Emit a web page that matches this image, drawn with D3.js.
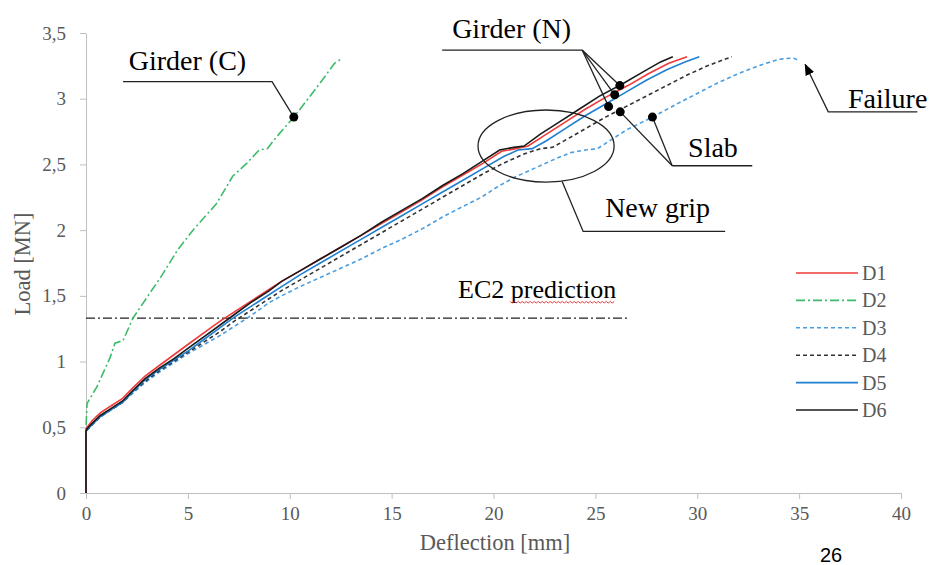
<!DOCTYPE html>
<html>
<head>
<meta charset="utf-8">
<script src="https://cdn.jsdelivr.net/npm/d3@7"></script>
<style>
  body { margin: 0; background: #fff; }
  .axis path, .axis line { stroke: #bfbfbf; }
  .axis text { font-family: "Liberation Serif", serif; font-size: 19px; fill: #595959; }
  .ann { font-family: "Liberation Serif", serif; font-size: 28px; fill: #000; }
</style>
</head>
<body>
<div id="chart"></div>
<script>
// series: [deflection mm, load MN]
const D1 = [[0,0],[0,0.48],[0.05,0.5],[0.3,0.55],[0.7,0.61],[1.2,0.66],[1.8,0.72],[2.3,0.8],[2.9,0.89],[3.6,0.97],[4.3,1.05],[5.0,1.13],[5.8,1.22],[6.6,1.31],[7.3,1.38],[8.1,1.46],[9.0,1.55],[9.6,1.61],[10.5,1.69],[11.5,1.78],[12.5,1.87],[13.5,1.96],[14.5,2.05],[15.5,2.14],[16.5,2.23],[17.5,2.33],[18.5,2.42],[19.5,2.51],[20.4,2.6],[21.1,2.62],[21.7,2.64],[22.6,2.73],[23.5,2.82],[24.5,2.92],[25.5,3.01],[26.6,3.1],[27.6,3.19],[28.6,3.27],[29.5,3.32]];
const D2 = [[0,0],[0,0.5],[0.05,0.68],[0.54,0.81],[1.18,1.03],[1.42,1.14],[1.82,1.16],[2.3,1.33],[3.0,1.49],[3.7,1.65],[4.5,1.85],[5.25,2.0],[6.4,2.2],[7.2,2.41],[7.9,2.51],[8.5,2.61],[8.9,2.62],[9.3,2.7],[10.2,2.86],[11.3,3.08],[12.2,3.27],[12.5,3.3]];
const D3 = [[0,0],[0,0.47],[0.05,0.48],[0.3,0.52],[0.7,0.58],[1.2,0.63],[1.8,0.69],[2.3,0.76],[2.9,0.84],[3.6,0.92],[4.3,0.99],[5.0,1.06],[5.8,1.13],[6.6,1.2],[7.3,1.27],[8.1,1.35],[9.0,1.45],[9.6,1.5],[10.5,1.57],[11.5,1.64],[12.5,1.71],[13.5,1.78],[14.5,1.86],[15.5,1.93],[16.5,2.01],[17.5,2.1],[18.5,2.18],[19.4,2.25],[20.2,2.33],[21.0,2.4],[22.0,2.47],[23.0,2.54],[23.8,2.59],[24.5,2.61],[25.1,2.62],[25.6,2.67],[26.5,2.76],[27.8,2.86],[29,2.96],[30,3.04],[31,3.12],[32,3.19],[33,3.25],[34,3.3],[34.7,3.31],[35.0,3.29]];
const D4 = [[0,0],[0,0.47],[0.05,0.48],[0.3,0.52],[0.7,0.58],[1.2,0.63],[1.8,0.69],[2.3,0.77],[2.9,0.85],[3.6,0.93],[4.3,1.0],[5.0,1.07],[5.8,1.15],[6.6,1.23],[7.3,1.31],[8.1,1.39],[9.0,1.48],[9.6,1.54],[10.5,1.62],[11.5,1.71],[12.5,1.8],[13.5,1.89],[14.5,1.98],[15.5,2.07],[16.5,2.16],[17.5,2.25],[18.5,2.34],[19.5,2.43],[20.5,2.51],[21.5,2.58],[22.3,2.62],[22.9,2.63],[23.7,2.7],[24.6,2.78],[25.5,2.86],[26.5,2.94],[27.5,3.02],[28.5,3.1],[29.5,3.18],[30.5,3.25],[31.7,3.32]];
const D5 = [[0,0],[0,0.47],[0.05,0.48],[0.3,0.52],[0.7,0.58],[1.2,0.63],[1.8,0.69],[2.3,0.77],[2.9,0.86],[3.6,0.94],[4.3,1.01],[5.0,1.08],[5.8,1.17],[6.6,1.26],[7.3,1.34],[8.1,1.42],[9.0,1.51],[9.6,1.57],[10.5,1.66],[11.5,1.75],[12.5,1.84],[13.5,1.93],[14.5,2.02],[15.5,2.11],[16.5,2.2],[17.5,2.29],[18.5,2.38],[19.5,2.47],[20.5,2.56],[21.2,2.61],[21.9,2.62],[22.6,2.68],[23.5,2.77],[24.5,2.87],[25.5,2.96],[26.5,3.05],[27.5,3.14],[28.5,3.22],[29.4,3.28],[30.1,3.32]];
const D6 = [[0,0],[0,0.47],[0.05,0.49],[0.3,0.53],[0.7,0.59],[1.2,0.64],[1.8,0.7],[2.3,0.78],[2.9,0.87],[3.6,0.95],[4.3,1.02],[5.0,1.1],[5.8,1.19],[6.6,1.28],[7.3,1.36],[8.1,1.45],[9.0,1.54],[9.6,1.61],[10.5,1.69],[11.5,1.78],[12.5,1.87],[13.5,1.96],[14.5,2.06],[15.5,2.15],[16.5,2.24],[17.5,2.34],[18.5,2.43],[19.4,2.52],[20.3,2.61],[21.0,2.63],[21.5,2.64],[22.3,2.73],[23.2,2.82],[24.2,2.92],[25.2,3.02],[26.3,3.11],[27.3,3.2],[28.2,3.28],[28.8,3.32]];

const seriesNames = ["D1","D2","D3","D4","D5","D6"];
const seriesData = [D1, D2, D3, D4, D5, D6];
const xTicks = [0,5,10,15,20,25,30,35,40];
const yTicks = [0,0.5,1,1.5,2,2.5,3,3.5];

// EC2 prediction level [MN] and extent [mm]
const ec2Load = 1.33;
const ec2Extent = [0, 26.7];

// annotation anchor points in data units
const girderCDot = [10.2, 2.86];
const girderCLeader = [[10.2, 2.86], [9.13, 3.13], [1.82, 3.13]];
const girderNDots = [[26.2, 3.1], [25.95, 3.03], [25.65, 2.94]];
const girderNLeader = [[17.48, 3.37], [24.35, 3.37]];
const slabDots = [[26.22, 2.9], [27.8, 2.86]];
const slabLeader = [[28.77, 2.49], [32.7, 2.49]];
const gripEllipse = {cx: 22.58, cy: 2.64, rx: 3.34, ry: 0.274};
const gripLeader = [[23.37, 2.37], [24.4, 1.99], [31.37, 1.99]];
const failureLeader = [[40.8, 2.9], [36.43, 2.9], [35.3, 3.26]];

// styles
const colors = {D1: "#f03a3a", D2: "#3dbb6a", D3: "#4a9ee0", D4: "#333333", D5: "#1f7fd0", D6: "#1a1a1a"};
const dashes = {D1: null, D2: "9,3,2,3", D3: "4,3", D4: "4,3", D5: null, D6: null};

const W = 931, H = 565;
const svg = d3.select("#chart").append("svg")
    .attr("width", W)
    .attr("height", H)
    .style("font-family", "Liberation Serif, serif");

const x = d3.scaleLinear().domain([0, 40]).range([86, 901]);
const y = d3.scaleLinear().domain([0, 3.5]).range([493, 33]);

// axes
svg.append("g")
    .attr("class", "axis")
    .attr("transform", "translate(0,493)")
    .call(d3.axisBottom(x).tickValues(xTicks).tickSize(6).tickSizeOuter(0).tickPadding(8).tickFormat(d3.format("d")));

svg.append("g")
    .attr("class", "axis")
    .attr("transform", "translate(86,0)")
    .call(d3.axisLeft(y).tickValues(yTicks).tickSize(6).tickSizeOuter(0).tickPadding(14)
        .tickFormat(d => String(d).replace(".", ",")));

svg.selectAll(".axis .domain").attr("stroke", "#bfbfbf");

// axis titles
svg.append("text")
    .attr("x", 495)
    .attr("y", 550)
    .attr("text-anchor", "middle")
    .attr("font-size", 22.5)
    .attr("fill", "#595959")
    .text("Deflection [mm]");

svg.append("text")
    .attr("transform", "translate(30,264) rotate(-90)")
    .attr("text-anchor", "middle")
    .attr("font-size", 22.5)
    .attr("fill", "#595959")
    .text("Load [MN]");

// EC2 prediction line
svg.append("line")
    .attr("x1", x(ec2Extent[0]))
    .attr("x2", x(ec2Extent[1]))
    .attr("y1", y(ec2Load))
    .attr("y2", y(ec2Load))
    .attr("stroke", "#222")
    .attr("stroke-width", 1.3)
    .attr("stroke-dasharray", "9,3,2,3");

// curves
const line = d3.line().x(d => x(d[0])).y(d => y(d[1]));
const drawOrder = [2, 3, 1, 4, 0, 5];
drawOrder.forEach(i => {
    const name = seriesNames[i];
    svg.append("path")
        .datum(seriesData[i])
        .attr("fill", "none")
        .attr("stroke", colors[name])
        .attr("stroke-width", 1.6)
        .attr("stroke-dasharray", dashes[name])
        .attr("d", line);
});

// legend
const legend = svg.append("g").attr("transform", "translate(796,273)");
seriesNames.forEach((name, i) => {
    const g = legend.append("g").attr("transform", "translate(0," + (i * 27.4) + ")");
    g.append("line")
        .attr("x1", 0).attr("x2", 62)
        .attr("stroke", colors[name])
        .attr("stroke-width", 1.6)
        .attr("stroke-dasharray", dashes[name]);
    g.append("text")
        .attr("x", 66)
        .attr("y", 7)
        .attr("font-size", 20)
        .attr("fill", "#595959")
        .text(name);
});

// annotations
const path = d3.line().x(d => x(d[0])).y(d => y(d[1]));
const ann = svg.append("g");

function leader(pts) {
    ann.append("path")
        .attr("d", path(pts))
        .attr("fill", "none")
        .attr("stroke", "#222")
        .attr("stroke-width", 1.3);
}
function dot(p) {
    ann.append("circle")
        .attr("cx", x(p[0]))
        .attr("cy", y(p[1]))
        .attr("r", 4.5)
        .attr("fill", "#000");
}

// Girder (C)
leader(girderCLeader);
dot(girderCDot);
ann.append("text").attr("class", "ann").attr("x", x(2.1)).attr("y", y(3.22)).text("Girder (C)");

// Girder (N)
leader(girderNLeader);
girderNDots.forEach(p => { leader([girderNLeader[1], p]); dot(p); });
ann.append("text").attr("class", "ann").attr("x", x(17.97)).attr("y", y(3.46)).text("Girder (N)");

// Slab
slabDots.forEach(p => { leader([slabLeader[0], p]); dot(p); });
leader(slabLeader);
ann.append("text").attr("class", "ann").attr("x", x(29.55)).attr("y", y(2.56)).text("Slab");

// New grip
ann.append("ellipse")
    .attr("cx", x(gripEllipse.cx))
    .attr("cy", y(gripEllipse.cy))
    .attr("rx", x(gripEllipse.rx) - x(0))
    .attr("ry", y(0) - y(gripEllipse.ry))
    .attr("fill", "none")
    .attr("stroke", "#222")
    .attr("stroke-width", 1.3);
leader(gripLeader);
ann.append("text").attr("class", "ann").attr("x", x(25.48)).attr("y", y(2.1)).text("New grip");

// Failure
svg.append("defs").append("marker")
    .attr("id", "arrow")
    .attr("viewBox", "0 0 10 10")
    .attr("refX", 9).attr("refY", 5)
    .attr("markerWidth", 9).attr("markerHeight", 9)
    .attr("orient", "auto")
    .append("path")
    .attr("d", "M0,1 L10,5 L0,9 z")
    .attr("fill", "#000");
ann.append("path")
    .attr("d", path(failureLeader))
    .attr("fill", "none")
    .attr("stroke", "#222")
    .attr("stroke-width", 1.3)
    .attr("marker-end", "url(#arrow)");
ann.append("text").attr("class", "ann").attr("x", x(37.4)).attr("y", y(2.93)).text("Failure");

// EC2 prediction label with spell-check squiggle
const ec2Text = ann.append("text").attr("class", "ann")
    .attr("font-size", 26).style("font-size", "26px")
    .attr("x", x(18.26)).attr("y", y(1.48))
    .text("EC2 prediction");
const bb = ec2Text.node().getBBox();
const squig = [];
const sx0 = bb.x + bb.width * 0.33, sx1 = bb.x + bb.width;
for (let i = 0, px = sx0; px <= sx1; i++, px += 2) squig.push([px, y(1.48) + 3 + (i % 2 ? 1.5 : 0)]);
ann.append("path")
    .attr("d", d3.line()(squig))
    .attr("fill", "none")
    .attr("stroke", "#e03030")
    .attr("stroke-width", 0.9);

// slide number
svg.append("text")
    .attr("x", 831)
    .attr("y", 562)
    .attr("text-anchor", "middle")
    .attr("font-family", "Liberation Sans, Arial, sans-serif")
    .attr("font-size", 20)
    .attr("fill", "#000")
    .text("26");
</script>
</body>
</html>
